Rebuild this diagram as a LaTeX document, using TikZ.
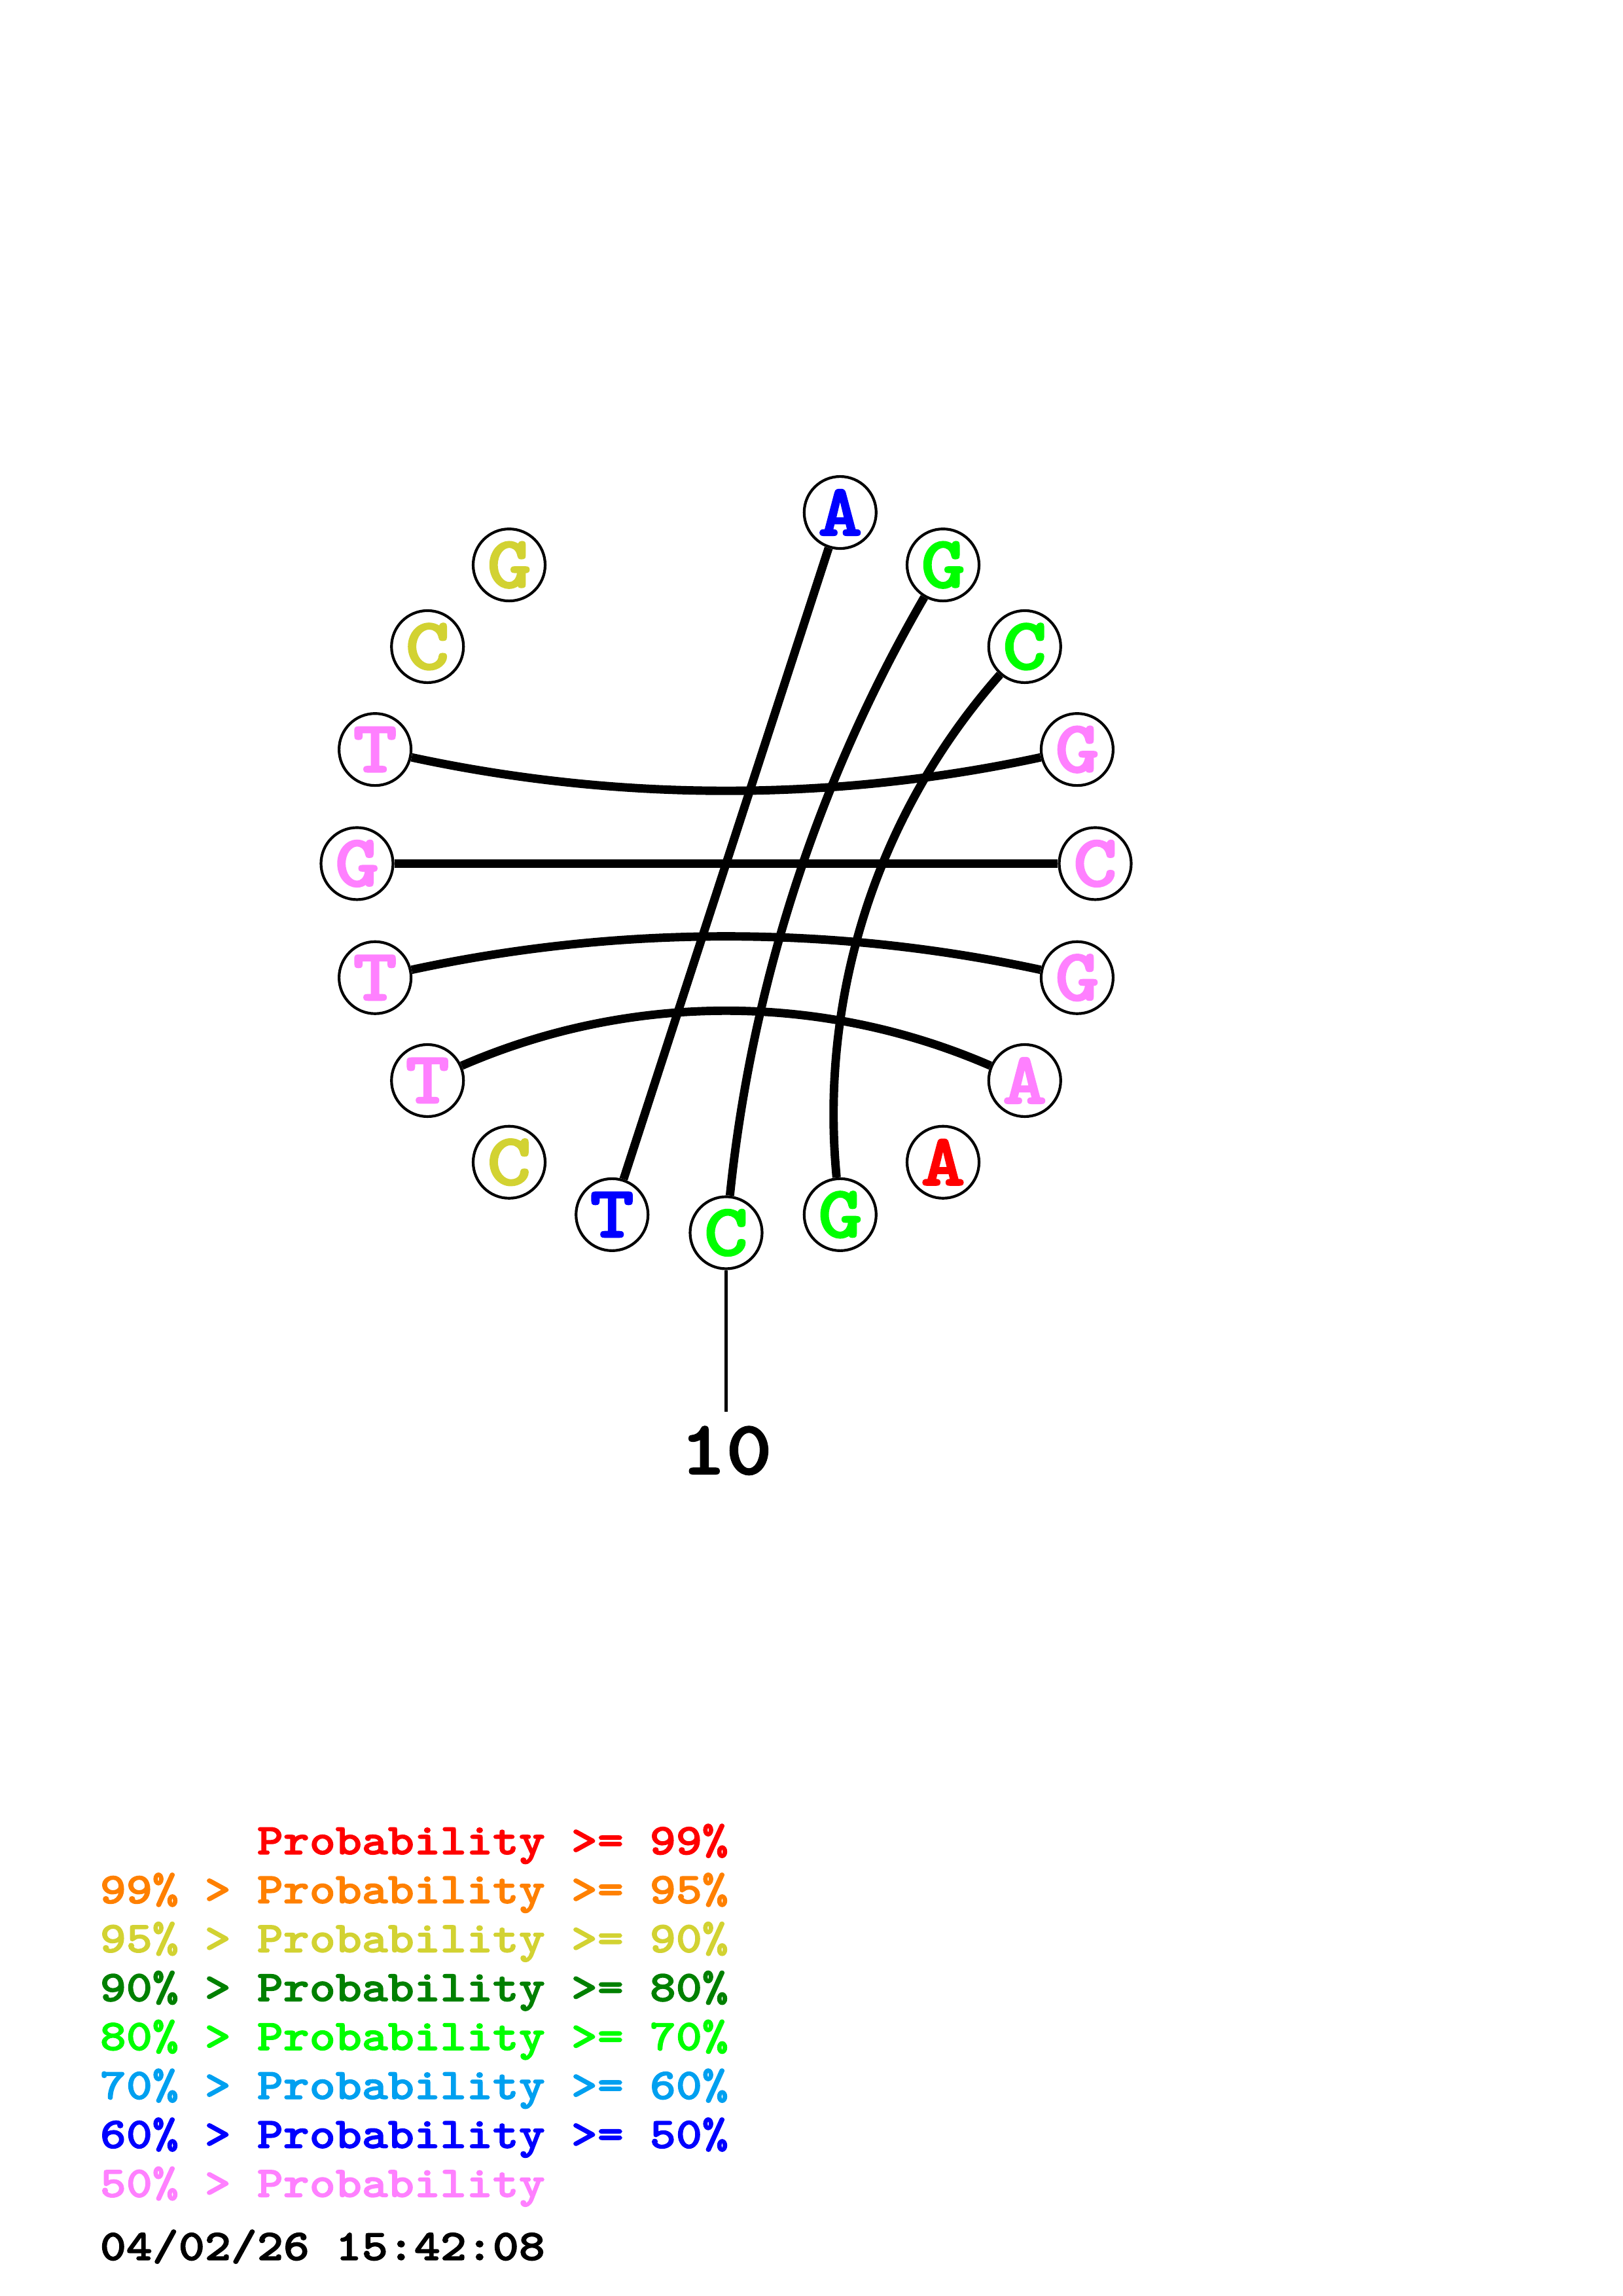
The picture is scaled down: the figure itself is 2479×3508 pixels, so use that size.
\documentclass[tikz,border=0pt]{standalone}
\usepackage{fontspec}
\newfontfamily\cour{lmmonolt10-bold}[Extension=.otf, FakeStretch=1.143, FakeBold=2]
\definecolor{cRed}{RGB}{255,0,0}
\definecolor{cOrange}{RGB}{255,128,0}
\definecolor{cYellow}{RGB}{210,210,50}
\definecolor{cDkGreen}{RGB}{0,128,0}
\definecolor{cGreen}{RGB}{0,255,0}
\definecolor{cLtBlue}{RGB}{0,160,240}
\definecolor{cBlue}{RGB}{0,0,255}
\definecolor{cPink}{RGB}{255,128,255}
\begin{document}
\begin{tikzpicture}[x=0.24pt,y=0.24pt,
  base/.style={circle, draw=black, line width=1pt, fill=white, minimum size=26.4pt, inner sep=0pt,
    font=\cour\fontsize{27}{27}\selectfont},
  pairline/.style={line width=3.1pt},
  legend/.style={anchor=base west, inner sep=0pt, font=\cour\fontsize{16}{18}\selectfont}]
\useasboundingbox[fill=white] (0,0) rectangle (2479,3508);
\begin{scope}[shift={(1109.5,2188.5)}]
  \foreach \i/\b/\c in {1/A/cBlue,2/G/cGreen,3/C/cGreen,4/G/cPink,5/C/cPink,6/G/cPink,
      7/A/cPink,8/A/cRed,9/G/cGreen,10/C/cGreen,11/T/cBlue,12/C/cYellow,13/T/cPink,
      14/T/cPink,15/G/cPink,16/T/cPink,17/C/cYellow,18/G/cYellow}
    \node[base, text=\c] (n\i) at ({90-18*\i}:564) {\b};
  \draw[pairline] (n1) -- (n11);
  \draw[pairline] (n5) -- (n15);
  \draw[pairline] (n2) .. controls (42.13:189.1) and (-78.13:189.1) .. (n10);
  \draw[pairline] (n4) .. controls (29.87:189.1) and (150.13:189.1) .. (n16);
  \draw[pairline] (n6) .. controls (-29.87:189.1) and (-150.13:189.1) .. (n14);
  \draw[pairline] (n3) .. controls (18.61:245.2) and (-54.61:245.2) .. (n9);
  \draw[pairline] (n7) .. controls (-53.39:245.2) and (-126.61:245.2) .. (n13);
  \coordinate (tick) at (0,-837.5);
  \draw[line width=1.2pt] (n10) -- (tick);
  \node[anchor=base, inner sep=0pt, font=\cour\fontsize{28}{28}\selectfont] (lab) at (0,-932.5) {10};
\end{scope}
\node[legend, text=cRed] (l1) at (392,675) {Probability >= 99\%};
\node[legend, text=cOrange] (l2) at (152,600.2) {99\% > Probability >= 95\%};
\node[legend, text=cYellow] (l3) at (152,525.4) {95\% > Probability >= 90\%};
\node[legend, text=cDkGreen] (l4) at (152,450.6) {90\% > Probability >= 80\%};
\node[legend, text=cGreen] (l5) at (152,375.8) {80\% > Probability >= 70\%};
\node[legend, text=cLtBlue] (l6) at (152,301) {70\% > Probability >= 60\%};
\node[legend, text=cBlue] (l7) at (152,226.2) {60\% > Probability >= 50\%};
\node[legend, text=cPink] (l8) at (152,151.4) {50\% > Probability};
\node[legend, text=black] (date) at (152,55) {04/02/26 15:42:08};
\end{tikzpicture}
\end{document}
